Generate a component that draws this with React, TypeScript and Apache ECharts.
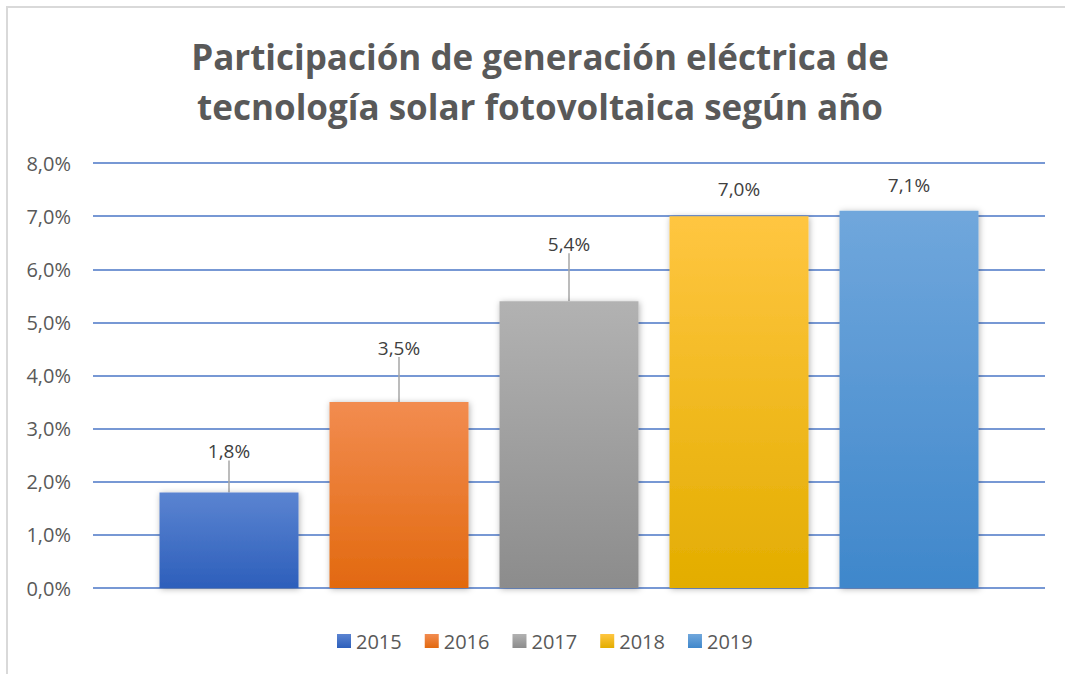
import React, { useEffect, useRef } from "react";
import * as echarts from "echarts";

const categories = [""];
const years = ["2015", "2016", "2017", "2018", "2019"];
const values = [1.8, 3.5, 5.4, 7.0, 7.1];
const yTicks = [0, 1, 2, 3, 4, 5, 6, 7, 8];
const colorsTop = ["#5b84d1", "#f28c50", "#b2b2b2", "#ffc641", "#70a7dc"];
const colorsBottom = ["#2d5fbb", "#e2690f", "#8c8c8c", "#e3ad00", "#3f87cb"];
const labelDy = [-27, -40, -43, -13, -11];
const showLine = [true, true, true, false, false];

const fmt = (v: number) => v.toFixed(1).replace(".", ",") + "%";
const FONT = "'Open Sans', sans-serif";

export default function App() {
  const ref = useRef<HTMLDivElement>(null);
  useEffect(() => {
    document.body.style.margin = "0";
    const chart = echarts.init(ref.current!, undefined, { renderer: "svg" });
    const series = years.map((y, i) => ({
      name: y,
      type: "bar",
      data: [values[i]],
      barWidth: 139,
      barGap: "22.3%",
      itemStyle: {
        color: new echarts.graphic.LinearGradient(0, 0, 0, 1, [
          { offset: 0, color: colorsTop[i] },
          { offset: 1, color: colorsBottom[i] },
        ]),
        shadowBlur: 6,
        shadowColor: "rgba(0,0,0,0.3)",
        shadowOffsetX: 1,
        shadowOffsetY: 1,
      },
      label: {
        show: true,
        position: "top",
        distance: 5,
        formatter: (p: any) => fmt(p.value),
        fontFamily: FONT,
        fontSize: 19,
        color: "#404040",
      },
      labelLayout: { dy: labelDy[i] },
      labelLine: {
        show: showLine[i],
        lineStyle: { color: "#a6a6a6", width: 1.5 },
      },
    }));
    chart.setOption({
      animation: false,
      backgroundColor: "#ffffff",
      title: {
        text: "Participación de generación eléctrica de\ntecnología solar fotovoltaica según año",
        left: 535,
        textAlign: "center",
        top: 26,
        textStyle: {
          fontFamily: FONT,
          fontWeight: "bold",
          fontSize: 35,
          color: "#595959",
          lineHeight: 50,
        },
      },
      graphic: [
        {
          type: "rect",
          shape: { x: 7, y: 7, width: 1100, height: 700 },
          style: { fill: "none", stroke: "#d9d9d9", lineWidth: 2 },
          silent: true,
        },
      ],
      legend: {
        data: years,
        top: 626,
        left: 332,
        itemWidth: 14,
        itemHeight: 14,
        itemGap: 23,
        icon: "rect",
        textStyle: { fontFamily: FONT, fontSize: 20, color: "#595959" },
      },
      grid: { left: 93, right: 20, top: 163, bottom: 86, containLabel: false },
      xAxis: {
        type: "category",
        data: categories,
        axisLine: { show: false },
        axisTick: { show: false },
        axisLabel: { show: false },
      },
      yAxis: {
        type: "value",
        min: yTicks[0],
        max: yTicks[yTicks.length - 1],
        interval: 1,
        axisLine: { show: false },
        axisTick: { show: false },
        axisLabel: {
          formatter: (v: number) => fmt(v),
          fontFamily: FONT,
          fontSize: 20,
          color: "#595959",
          margin: 22,
        },
        splitLine: { lineStyle: { color: "#4a76c6", width: 1.5 } },
      },
      series,
    });
    return () => chart.dispose();
  }, []);
  return (
    <div
      ref={ref}
      style={{ position: "absolute", left: 0, top: 0, width: 1065, height: 674 }}
    />
  );
}
